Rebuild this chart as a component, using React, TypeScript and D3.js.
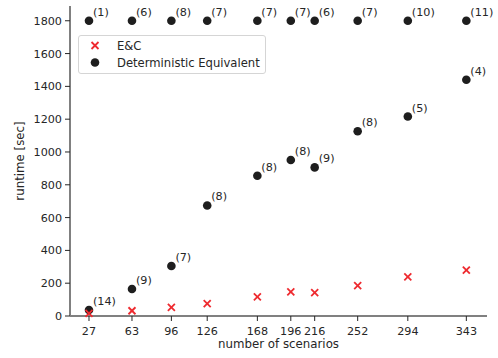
import * as d3 from 'd3';

// number of scenarios (x ticks)
const scenarios = [27, 63, 96, 126, 168, 196, 216, 252, 294, 343];
// E&C runtimes [sec]
const ecRuntime = [16, 32, 53, 75, 116, 147, 142, 185, 238, 279];
// Deterministic Equivalent runtimes [sec] (1800 = time limit)
const deRuntime = [37, 165, 305, 674, 855, 951, 906, 1126, 1216, 1440];
const deLabels = ['(14)', '(9)', '(7)', '(8)', '(8)', '(8)', '(9)', '(8)', '(5)', '(4)'];
const timeLimit = 1800;
const limitLabels = ['(1)', '(6)', '(8)', '(7)', '(7)', '(7)', '(6)', '(7)', '(10)', '(11)'];
const yTicks = [0, 200, 400, 600, 800, 1000, 1200, 1400, 1600, 1800];

const W = 498;
const H = 358;
const FONT = 'DejaVu Sans, sans-serif';
const FS = 11.2;
const FS_LABEL = 11.8;
const FS_LEGEND = 11.6;
const RED = '#ee2a2f';
const DOT = '#1e1e1e';
const TXT = '#262626';

export default function App() {
  const x = d3.scaleLinear().domain([11.1, 360.3]).range([70, 487]);
  const y = d3.scaleLinear().domain([0, 1890]).range([316, 6]);
  const [x0, x1] = x.range();
  const [y0, y1] = y.range();

  const cross = (cx: number, cy: number, k: string) => (
    <g key={k} stroke={RED} strokeWidth={1.8}>
      <line x1={cx - 3.5} y1={cy - 3.5} x2={cx + 3.5} y2={cy + 3.5} />
      <line x1={cx - 3.5} y1={cy + 3.5} x2={cx + 3.5} y2={cy - 3.5} />
    </g>
  );

  return (
    <svg width={W} height={H} style={{ position: 'absolute', left: 0, top: 0 }} fontFamily={FONT}>
      <rect width={W} height={H} fill="#fff" />

      {/* spines */}
      <line x1={x0} y1={y0} x2={x0} y2={y1} stroke="#808080" strokeWidth={2} />
      <line x1={x0} y1={y0} x2={x1} y2={y0} stroke="#808080" strokeWidth={2} />

      {/* y ticks */}
      {yTicks.map(t => (
        <g key={'y' + t}>
          <line x1={x0 - 5} x2={x0} y1={y(t)} y2={y(t)} stroke={TXT} strokeWidth={1} />
          <text x={x0 - 8} y={y(t)} dy="0.36em" textAnchor="end" fontSize={FS} fill={TXT}>{t}</text>
        </g>
      ))}

      {/* x ticks */}
      {scenarios.map(s => (
        <g key={'x' + s}>
          <line x1={x(s)} x2={x(s)} y1={y0} y2={y0 + 5} stroke={TXT} strokeWidth={1} />
          <text x={x(s)} y={y0 + 19} textAnchor="middle" fontSize={FS} fill={TXT}>{s}</text>
        </g>
      ))}

      <text x={(x0 + x1) / 2} y={348} textAnchor="middle" fontSize={FS_LABEL} fill={TXT}>number of scenarios</text>
      <text transform={`translate(24,${(y0 + y1) / 2}) rotate(-90)`} textAnchor="middle" fontSize={FS_LABEL} fill={TXT}>runtime [sec]</text>

      {/* Deterministic Equivalent */}
      {scenarios.map((s, i) => (
        <g key={'de' + s}>
          <circle cx={x(s)} cy={y(deRuntime[i])} r={4.3} fill={DOT} />
          <text x={x(s) + 4} y={y(deRuntime[i]) - 5} fontSize={FS} fill={TXT}>{deLabels[i]}</text>
          <circle cx={x(s)} cy={y(timeLimit)} r={4.3} fill={DOT} />
          <text x={x(s) + 4} y={y(timeLimit) - 5} fontSize={FS} fill={TXT}>{limitLabels[i]}</text>
        </g>
      ))}

      {/* E&C */}
      {scenarios.map((s, i) => cross(x(s), y(ecRuntime[i]), 'ec' + s))}

      {/* legend */}
      <g>
        <rect x={78.5} y={35.5} width={187} height={38} rx={2.5} fill="#fff" fillOpacity={0.85} stroke="#d5d5d5" strokeWidth={1} />
        {cross(95, 45.5, 'lg')}
        <text x={117} y={45.5} dy="0.36em" fontSize={FS_LEGEND} fill={TXT}>E&amp;C</text>
        <circle cx={95} cy={62.5} r={4.3} fill={DOT} />
        <text x={117} y={62.5} dy="0.36em" fontSize={FS_LEGEND} fill={TXT}>Deterministic Equivalent</text>
      </g>
    </svg>
  );
}
